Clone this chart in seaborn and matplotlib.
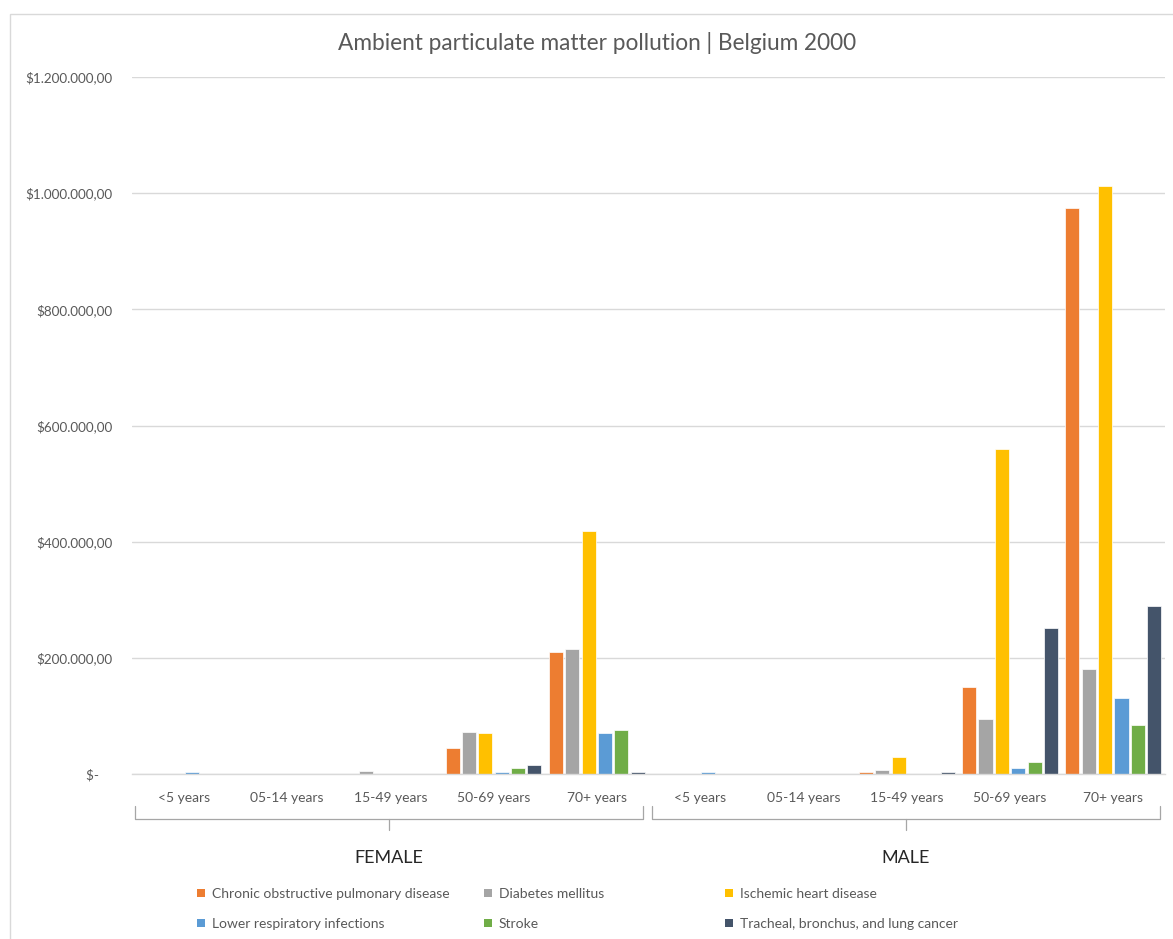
import numpy as np
import pandas as pd
import matplotlib
matplotlib.use("Agg")
import matplotlib.pyplot as plt
from matplotlib.patches import Rectangle, Patch
import seaborn as sns

# ---- data -------------------------------------------------------------
sexes = ["FEMALE", "MALE"]
ages = ["<5 years", "05-14 years", "15-49 years", "50-69 years", "70+ years"]
causes = [
    "Chronic obstructive pulmonary disease",
    "Diabetes mellitus",
    "Ischemic heart disease",
    "Lower respiratory infections",
    "Stroke",
    "Tracheal, bronchus, and lung cancer",
]
# values per cause, ordered FEMALE ages then MALE ages
copd     = [0, 0, 0, 45000, 210000,      0, 0, 3000, 150000, 975000]
diabetes = [0, 0, 5000, 72000, 216000,   0, 0, 7000, 95000, 181000]
ihd      = [0, 0, 0, 71000, 418000,      0, 0, 30000, 560000, 1013000]
lri      = [3000, 0, 0, 3000, 71000,     3000, 0, 0, 10000, 131000]
stroke   = [0, 0, 0, 10000, 76000,       0, 0, 0, 20000, 84000]
lung     = [0, 0, 0, 16000, 4000,        0, 0, 3000, 251000, 289000]

colors = ["#ED7D31", "#A5A5A5", "#FFC000", "#5B9BD5", "#70AD47", "#44546A"]
title = "Ambient particulate matter pollution | Belgium 2000"

series = [copd, diabetes, ihd, lri, stroke, lung]
groups = [f"{s}|{a}" for s in sexes for a in ages]
rows = []
for cause, vals in zip(causes, series):
    for g, v in zip(groups, vals):
        rows.append({"group": g, "cause": cause, "value": v})
df = pd.DataFrame(rows)

# ---- figure -----------------------------------------------------------
W, H = 1173, 939
sns.set_theme(style="white")
plt.rcParams["font.family"] = ["Lato", "DejaVu Sans"]
fig = plt.figure(figsize=(W / 100, H / 100), dpi=100)

def fx(px):
    return px / W

def fy(py):
    return 1 - py / H

ax = fig.add_axes([fx(132), fy(774), fx(1165) - fx(132), fy(77) - fy(774)])

sns.barplot(data=df, x="group", y="value", hue="cause", order=groups,
            hue_order=causes, palette=colors, width=0.95, gap=0.14,
            edgecolor="white", linewidth=0.5, saturation=1, ax=ax,
            legend=False)

ax.set_xlim(-0.5, len(groups) - 0.5)
ax.set_ylim(0, 1200000)
ticks = np.arange(0, 1200001, 200000)
ax.set_yticks(ticks)

def money(v):
    if v == 0:
        return "$-    "
    s = f"{v:,.2f}".replace(",", "X").replace(".", ",").replace("X", ".")
    return "$" + s

ax.set_yticklabels([money(t) for t in ticks])
ax.set_xticks(range(len(groups)))
ax.set_xticklabels([a for s in sexes for a in ages])
ax.tick_params(axis="y", length=0, pad=14, labelsize=9.7, labelcolor="#595959")
ax.tick_params(axis="x", length=0, pad=13, labelsize=10, labelcolor="#595959")
ax.set_xlabel("")
ax.set_ylabel("")
ax.yaxis.grid(True, color="#D9D9D9", linewidth=1)
ax.set_axisbelow(True)
for sp in ["top", "right", "left"]:
    ax.spines[sp].set_visible(False)
ax.spines["bottom"].set_color("#D9D9D9")
ax.spines["bottom"].set_linewidth(1)

# group brackets under the age labels
trans = ax.get_xaxis_transform()
def ay(py):
    return (774 - py) / (774 - 77)

bc = "#A6A6A6"
for i, sex in enumerate(sexes):
    x0 = i * 5 - 0.47
    x1 = i * 5 + 4.45
    xm = i * 5 + 1.99
    ax.plot([x0, x0, x1, x1], [ay(806), ay(819), ay(819), ay(806)],
            transform=trans, color=bc, lw=0.9, clip_on=False,
            solid_joinstyle="round")
    ax.plot([xm, xm], [ay(819), ay(830)], transform=trans, color=bc,
            lw=0.9, clip_on=False)
    ax.text(xm, ay(858), sex, transform=trans, ha="center", va="center",
            fontsize=13, color="#262626")

# title
fig.text(fx(597), fy(43), title, ha="center", va="center", fontsize=16.3,
         color="#595959")

# legend, three columns
handles = [Patch(facecolor=c, edgecolor="none") for c in colors]
col_x = [197, 484, 725]
for j in range(3):
    idx = [j, j + 3]
    fig.legend([handles[k] for k in idx], [causes[k] for k in idx],
               loc="upper left", bbox_to_anchor=(fx(col_x[j]), fy(888)),
               bbox_transform=fig.transFigure, frameon=False,
               fontsize=10, labelcolor="#595959", handlelength=0.55,
               handleheight=0.55, handletextpad=0.5, labelspacing=1.3,
               borderpad=0, borderaxespad=0)

# chart frame
fig.patches.append(Rectangle((fx(10), fy(H + 5)), 1.0, fy(14) - fy(H + 5),
                             transform=fig.transFigure, fill=False,
                             edgecolor="#D9D9D9", linewidth=1))

fig.savefig("out.png", dpi=100)
